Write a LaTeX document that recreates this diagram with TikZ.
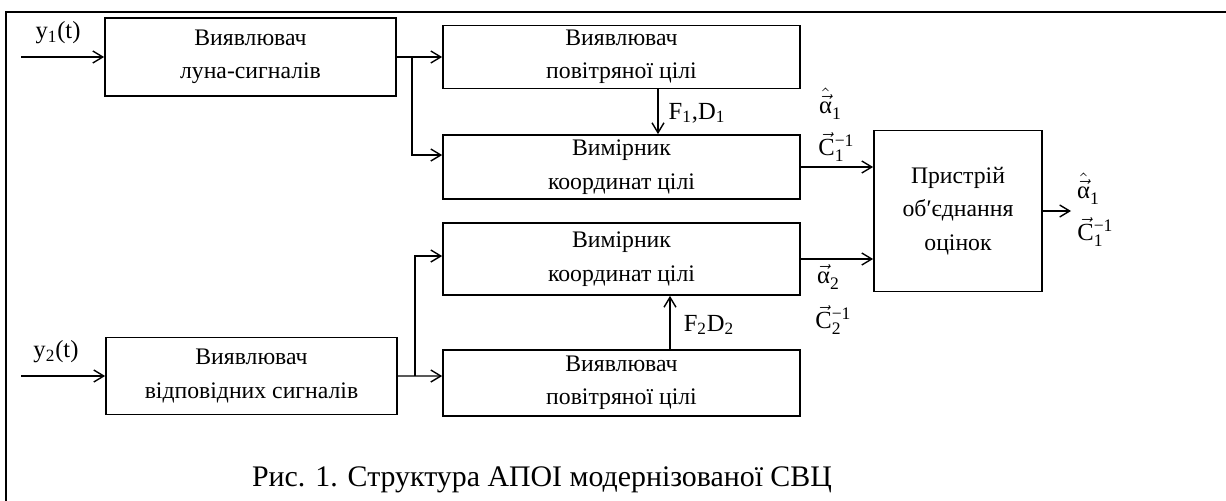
\documentclass[tikz,border=0pt]{standalone}
\usepackage{fontspec}
\setmainfont{Liberation Serif}
\usetikzlibrary{
    positioning,
    arrows.meta
    }

\newcommand{\idx}[1]{{\fontsize{10}{12}\selectfont #1}}
\newcommand{\covinv}[1]{$\vec{\hbox{C}}$\rlap{\raisebox{0.85ex}{\idx{−1}}}\raisebox{-0.55ex}{\idx{#1}}}

\begin{document}
\begin{tikzpicture}[x=0.02cm, y=-0.02cm, font=\fontsize{13.5}{19}\selectfont]
\tikzset{block/.style =
        {
            rectangle,
            line width=1pt,
            align=center,
            inner sep=0cm,
            draw
        }
}

\tikzset{conn/.style =
        {
            line width=0.8pt,
            -{Straight Barb[length=2mm, width=2.4mm]}
        }
}

\tikzset{frame/.style =
        {
            line width=1.2pt
        }
}

\tikzset{lbl/.style =
        {
            inner sep=0cm,
            font=\fontsize{14}{17}\selectfont
        }
}
		\useasboundingbox (0,0) rectangle (1226,500);
		\begin{scope}
			\clip (0,0) rectangle (1226,500);
			\draw[frame] (6,12) rectangle (1240,520);
		\end{scope}

		\node[block, minimum width=5.82cm, minimum height=1.56cm] (det1) at (250.5,57) {Виявлювач\\луна-сигналів};
		\node[block, minimum width=7.14cm, minimum height=1.26cm] (air1) at (621.5,57) {Виявлювач\\повітряної цілі};
		\node[block, minimum width=7.14cm, minimum height=1.28cm] (meas1) at (621.5,167) {Вимірник\\координат цілі};
		\node[block, minimum width=7.14cm, minimum height=1.44cm] (meas2) at (621.5,259) {Вимірник\\координат цілі};
		\node[block, minimum width=7.14cm, minimum height=1.32cm] (air2) at (621.5,383) {Виявлювач\\повітряної цілі};
		\node[block, minimum width=5.82cm, minimum height=1.54cm] (det2) at (251.5,376) {Виявлювач\\відповідних сигналів};
		\node[block, minimum width=3.36cm, minimum height=3.22cm] (fuse) at (958,211) {Пристрій\\об′єднання\\оцінок};

		\coordinate (in1) at (21,57);
		\coordinate (in2) at (21,376);
		\coordinate (br1) at (412,57);
		\coordinate (br2) at (415,376);
		\coordinate (out) at (1071,211);

		\draw[conn] (in1) -- (det1.west);
		\draw[conn] (in2) -- (det2.west);
		\draw[conn] (det1.east) -- (air1.west);
		\draw[conn] (br1) |- ([yshift=0.24cm]meas1.west);
		\draw[conn] ([xshift=0.73cm]air1.south) -- ([xshift=0.73cm]meas1.north);
		\draw[conn] (meas1.east) -- (meas1.east -| fuse.west);
		\draw[conn] (meas2.east) -- (meas2.east -| fuse.west);
		\draw[conn] ([xshift=0.97cm]air2.north) -- ([xshift=0.97cm]meas2.south);
		\draw[conn] (det2.east) -- ([yshift=0.14cm]air2.west);
		\draw[conn] (br2) |- ([yshift=0.06cm]meas2.west);
		\draw[conn] (fuse.east) -- (out);

		\node[lbl] (y1) at (58,33) {y\textsubscript{1}(t)};
		\node[lbl] (y2) at (56,352) {y\textsubscript{2}(t)};
		\node[lbl] (fd1) at (697,113) {F\textsubscript{1},D\textsubscript{1}};
		\node[lbl] (fd2) at (709,325) {F\textsubscript{2}D\textsubscript{2}};
		\node[lbl] (a1) at (830,104) {$\hat{\vec{\hbox{α}}}$\raisebox{-0.55ex}{\idx{1}}};
		\node[lbl] (c1) at (831,147) {\covinv{1}};
		\node[lbl] (a2) at (828,277) {$\vec{\hbox{α}}$\raisebox{-0.55ex}{\idx{2}}};
		\node[lbl] (c2) at (828,320) {\covinv{2}};
		\node[lbl] (a3) at (1088,189) {$\hat{\vec{\hbox{α}}}$\raisebox{-0.55ex}{\idx{1}}};
		\node[lbl] (c3) at (1090,232) {\covinv{1}};

		\node[lbl, font=\fontsize{17}{20}\selectfont] (caption) at (542,480) {Рис. 1. Структура АПОІ модернізованої СВЦ};

	\end{tikzpicture}
\end{document}
